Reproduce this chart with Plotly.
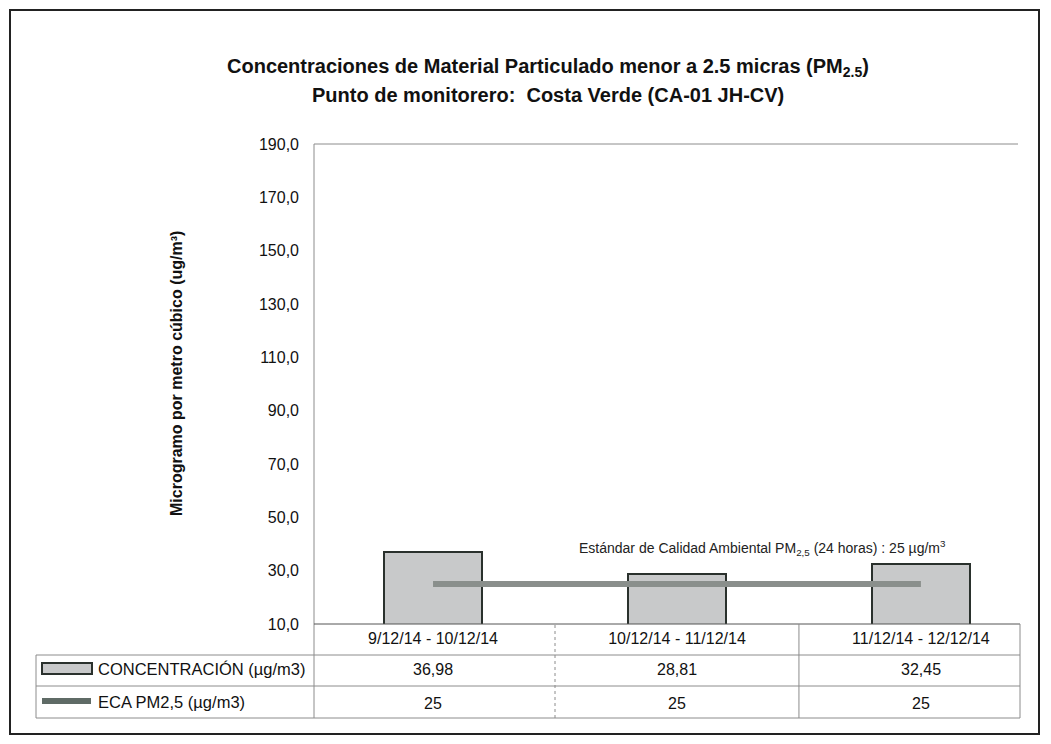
import plotly.graph_objects as go

categories = ["9/12/14 - 10/12/14", "10/12/14 - 11/12/14", "11/12/14 - 12/12/14"]
concentracion = [36.98, 28.81, 32.45]
eca = [25, 25, 25]
conc_labels = ["36,98", "28,81", "32,45"]
eca_labels = ["25", "25", "25"]
y_tickvals = [10, 30, 50, 70, 90, 110, 130, 150, 170, 190]
y_ticktext = ["10,0", "30,0", "50,0", "70,0", "90,0", "110,0", "130,0", "150,0", "170,0", "190,0"]
series_names = ["CONCENTRACIÓN (µg/m3)", "ECA PM2,5 (µg/m3)"]

OFF = 8  # page body margin
W, H = 1051 - 2 * OFF, 744 - 2 * OFF
# plot area in screen pixels
L, R, T, B = 314, 1018, 144, 624
FONT = "Liberation Sans Narrow, Arial Narrow, Liberation Sans, Arial, sans-serif"


def px(xp):
    return (xp - L) / (R - L)


def py(yp):
    return (B - yp) / (B - T)


fig = go.Figure()
fig.add_trace(go.Bar(
    x=list(range(len(categories))), y=concentracion, width=0.405,
    marker=dict(color="#c8c9ca", line=dict(color="#2a312d", width=2)),
    showlegend=False, hoverinfo="skip", base=0,
))
fig.add_trace(go.Scatter(
    x=list(range(len(categories))), y=eca, mode="lines",
    line=dict(color="#8a8f8c", width=6), showlegend=False, hoverinfo="skip",
))

shapes = []
grid = dict(color="#8c8c8c", width=1)
# outer border
shapes.append(dict(type="rect", xref="paper", yref="paper", x0=px(10), x1=px(1039), y0=py(734), y1=py(10),
                   line=dict(color="#222222", width=2), layer="below"))
# plot top border
shapes.append(dict(type="line", xref="paper", yref="paper", x0=0, x1=1, y0=1, y1=1, line=grid))
# left axis line extended through table
shapes.append(dict(type="line", xref="paper", yref="paper", x0=0, x1=0, y0=py(718), y1=1, line=grid))
# bottom axis line
shapes.append(dict(type="line", xref="paper", yref="paper", x0=0, x1=px(1020), y0=0, y1=0,
                   line=dict(color="#555555", width=1)))
# table horizontal lines
for yy in [655, 686, 718]:
    shapes.append(dict(type="line", xref="paper", yref="paper", x0=px(36), x1=px(1020), y0=py(yy), y1=py(yy), line=grid))
# table left / right borders
shapes.append(dict(type="line", xref="paper", yref="paper", x0=px(36), x1=px(36), y0=py(718), y1=py(655), line=grid))
shapes.append(dict(type="line", xref="paper", yref="paper", x0=px(1020), x1=px(1020), y0=py(718), y1=py(624), line=grid))
# column dividers at category boundaries
for i, xb in enumerate([0.5, 1.5]):
    shapes.append(dict(type="line", xref="x", yref="paper", x0=xb, x1=xb, y0=py(718), y1=0,
                       line=dict(color="#8c8c8c", width=1, dash="dot" if i == 0 else "solid")))
# legend swatches in table
shapes.append(dict(type="rect", xref="paper", yref="paper", x0=px(42), x1=px(92), y0=py(674), y1=py(663),
                   fillcolor="#c8c9ca", line=dict(color="#2a312d", width=2)))
shapes.append(dict(type="line", xref="paper", yref="paper", x0=px(42), x1=px(91), y0=py(701), y1=py(701),
                   line=dict(color="#5f6b66", width=6)))

annotations = []
annotations.append(dict(xref="paper", yref="paper", x=px(548), y=py(67), showarrow=False,
                        text="<b>Concentraciones de Material Particulado menor a 2.5 micras (PM<sub>2.5</sub>)</b>",
                        font=dict(family=FONT, size=20, color="#111111"), xanchor="center", yanchor="middle"))
annotations.append(dict(xref="paper", yref="paper", x=px(548), y=py(95), showarrow=False,
                        text="<b>Punto de monitorero:  Costa Verde (CA-01 JH-CV)</b>",
                        font=dict(family=FONT, size=20, color="#111111"), xanchor="center", yanchor="middle"))
annotations.append(dict(xref="paper", yref="paper", x=px(176), y=py(374), showarrow=False, textangle=-90,
                        text="<b>Microgramo por metro cúbico (ug/m³)</b>",
                        font=dict(family=FONT, size=16, color="#111111"), xanchor="center", yanchor="middle"))
annotations.append(dict(xref="x", yref="y", x=1.35, y=38.6, showarrow=False,
                        text="Estándar de Calidad Ambiental PM<sub>2,5</sub> (24 horas) : 25 µg/m<sup>3</sup>",
                        font=dict(family=FONT, size=14, color="#222222"), xanchor="center", yanchor="middle"))
# table row labels
annotations.append(dict(xref="paper", yref="paper", x=px(96), y=py(669), showarrow=False, text=series_names[0],
                        font=dict(family=FONT, size=16.5, color="#111111"), xanchor="left", yanchor="middle"))
annotations.append(dict(xref="paper", yref="paper", x=px(96), y=py(702), showarrow=False, text=series_names[1],
                        font=dict(family=FONT, size=16.5, color="#111111"), xanchor="left", yanchor="middle"))
for i in range(len(categories)):
    annotations.append(dict(xref="x", yref="paper", x=i, y=py(669), showarrow=False, text=conc_labels[i],
                            font=dict(family=FONT, size=16, color="#111111"), xanchor="center", yanchor="middle"))
    annotations.append(dict(xref="x", yref="paper", x=i, y=py(703), showarrow=False, text=eca_labels[i],
                            font=dict(family=FONT, size=16, color="#111111"), xanchor="center", yanchor="middle"))

fig.update_layout(
    width=W, height=H,
    margin=dict(l=L - OFF, r=W - (R - OFF), t=T - OFF, b=H - (B - OFF), pad=0),
    paper_bgcolor="white", plot_bgcolor="white",
    shapes=shapes, annotations=annotations,
    font=dict(family=FONT, size=16, color="#111111"),
    bargap=0,
)
fig.update_xaxes(
    range=[-0.488, 2.398], tickmode="array", tickvals=list(range(len(categories))), ticktext=categories,
    showgrid=False, zeroline=False, showline=False, ticks="",
    tickfont=dict(family=FONT, size=16, color="#111111"), ticklabelstandoff=3,
)
fig.update_yaxes(
    range=[10, 190], tickmode="array", tickvals=y_tickvals, ticktext=y_ticktext,
    showgrid=False, zeroline=False, showline=False, ticks="",
    tickfont=dict(family=FONT, size=16, color="#111111"), ticklabelstandoff=14,
)

fig.write_html("out.html")
